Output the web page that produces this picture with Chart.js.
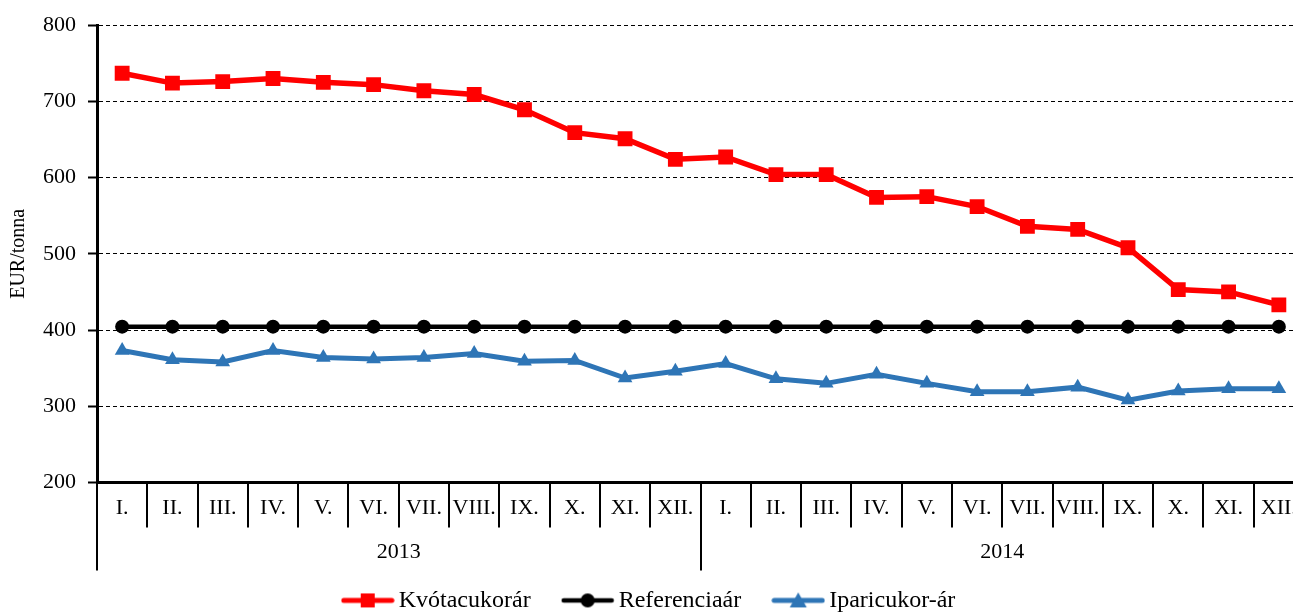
<!DOCTYPE html>
<html>
<head>
<meta charset="utf-8">
<script src="https://cdn.jsdelivr.net/npm/chart.js@4/dist/chart.umd.min.js"></script>
<style>
    html, body { margin: 0; padding: 0; background: #fff; overflow: hidden; }
    #wrap { position: relative; width: 1330px; height: 614px; }
</style>
</head>
<body>
<div id="wrap"><canvas id="sugarChart"></canvas></div>
<script>
// Havi árak, EUR/tonna (2013 I. - 2014 XII.)
const MONTHS = ['I.', 'II.', 'III.', 'IV.', 'V.', 'VI.', 'VII.', 'VIII.', 'IX.', 'X.', 'XI.', 'XII.',
                'I.', 'II.', 'III.', 'IV.', 'V.', 'VI.', 'VII.', 'VIII.', 'IX.', 'X.', 'XI.', 'XII.'];
const YEARS = ['2013', '2014'];

const KVOTA = [737, 724, 726, 730, 725, 722, 714, 709, 689, 659, 651, 624,
               627, 604, 604, 574, 575, 562, 536, 532, 508, 453, 450, 433];
const REFERENCIA = [404.4, 404.4, 404.4, 404.4, 404.4, 404.4, 404.4, 404.4, 404.4, 404.4, 404.4, 404.4,
                    404.4, 404.4, 404.4, 404.4, 404.4, 404.4, 404.4, 404.4, 404.4, 404.4, 404.4, 404.4];
const IPARI = [373, 361, 358, 373, 364, 362, 364, 369, 359, 360, 337, 346,
               356, 336, 330, 342, 330, 319, 319, 325, 308, 320, 323, 323];

const SERIES_NAMES = ['Kvótacukorár', 'Referenciaár', 'Iparicukor-ár'];
const Y_TICKS = [200, 300, 400, 500, 600, 700, 800];

const COLORS = { red: '#FF0000', black: '#000000', blue: '#2E75B6' };
const FONT = "'Liberation Serif', 'Times New Roman', serif";

// legend icon: short line with the marker in the middle
function legendIcon(color, marker, lineW) {
    const c = document.createElement('canvas');
    c.width = 54; c.height = 18;
    const g = c.getContext('2d');
    g.strokeStyle = color; g.fillStyle = color;
    g.lineWidth = lineW; g.lineCap = 'round';
    g.beginPath(); g.moveTo(3, 9); g.lineTo(51, 9); g.stroke();
    g.beginPath();
    if (marker === 'rect') g.rect(20, 2, 14, 14);
    else if (marker === 'circle') g.arc(27, 9, 7, 0, Math.PI * 2);
    else { g.moveTo(27, 1); g.lineTo(35.5, 16); g.lineTo(18.5, 16); g.closePath(); }
    g.fill();
    return c;
}

const ICONS = [
    legendIcon(COLORS.red, 'rect', 5),
    legendIcon(COLORS.black, 'circle', 4.5),
    legendIcon(COLORS.blue, 'triangle', 5)
];

const ctx = document.getElementById('sugarChart').getContext('2d');
new Chart(ctx, {
    type: 'line',
    data: {
        labels: MONTHS,
        datasets: [
            { label: SERIES_NAMES[0], data: KVOTA, borderColor: COLORS.red, backgroundColor: COLORS.red,
              borderWidth: 5.5, pointStyle: 'rect', pointRadius: 10.5, pointBorderWidth: 0, tension: 0 },
            { label: SERIES_NAMES[1], data: REFERENCIA, borderColor: COLORS.black, backgroundColor: COLORS.black,
              borderWidth: 4.5, pointStyle: 'circle', pointRadius: 7, pointBorderWidth: 0, tension: 0 },
            { label: SERIES_NAMES[2], data: IPARI, borderColor: COLORS.blue, backgroundColor: COLORS.blue,
              borderWidth: 5, pointStyle: 'triangle', pointRadius: 8.5, pointBorderWidth: 0, tension: 0 }
        ]
    },
    options: {
        responsive: true,
        maintainAspectRatio: false,
        animation: false,
        layout: { padding: { top: 21, right: 26, bottom: -8.4, left: 0 } },
        plugins: {
            tooltip: { enabled: false },
            legend: {
                position: 'bottom',
                labels: {
                    color: '#000',
                    font: { family: FONT, size: 24 },
                    usePointStyle: true,
                    pointStyleWidth: 38,
                    padding: 8,
                    generateLabels: (chart) => {
                        const items = Chart.defaults.plugins.legend.labels.generateLabels(chart);
                        items.forEach((it, i) => {
                            it.pointStyle = ICONS[i];
                            if (i < items.length - 1) it.text = it.text + '     ';
                        });
                        return items;
                    }
                }
            }
        },
        scales: {
            y: {
                min: 200,
                max: 800,
                afterBuildTicks: (s) => { s.ticks = Y_TICKS.map(v => ({ value: v })); },
                afterFit: (s) => { s.width = 97; },
                ticks: { color: '#000', font: { family: FONT, size: 22 }, padding: 12 },
                grid: {
                    color: '#000', lineWidth: 1,
                    tickLength: 9, tickWidth: 2, tickBorderDash: [1, 0]
                },
                border: { display: true, color: '#000', width: 3, dash: [4, 3] },
                title: {
                    display: true, text: 'EUR/tonna', color: '#000',
                    font: { family: FONT, size: 20 }, padding: { top: 7, bottom: 0 }
                }
            },
            x: {
                type: 'category',
                position: 'bottom',
                offset: true,
                afterFit: (s) => { s.height = 38; },
                ticks: {
                    color: '#000', font: { family: FONT, size: 22 },
                    autoSkip: false, maxRotation: 0, minRotation: 0, padding: -32
                },
                grid: {
                    offset: true, drawOnChartArea: false, color: '#000',
                    lineWidth: 2, tickLength: 45, tickWidth: 2
                },
                border: { display: true, color: '#000', width: 3 }
            },
            x2: {
                type: 'category',
                position: 'bottom',
                labels: YEARS,
                offset: true,
                afterFit: (s) => { s.height = 60; },
                ticks: {
                    color: '#000', font: { family: FONT, size: 22 },
                    autoSkip: false, maxRotation: 0, minRotation: 0, padding: -31
                },
                grid: {
                    offset: true, drawOnChartArea: false, color: '#000',
                    lineWidth: 2, tickLength: 50, tickWidth: 2
                },
                border: { display: false }
            }
        }
    }
});
</script>
</body>
</html>
